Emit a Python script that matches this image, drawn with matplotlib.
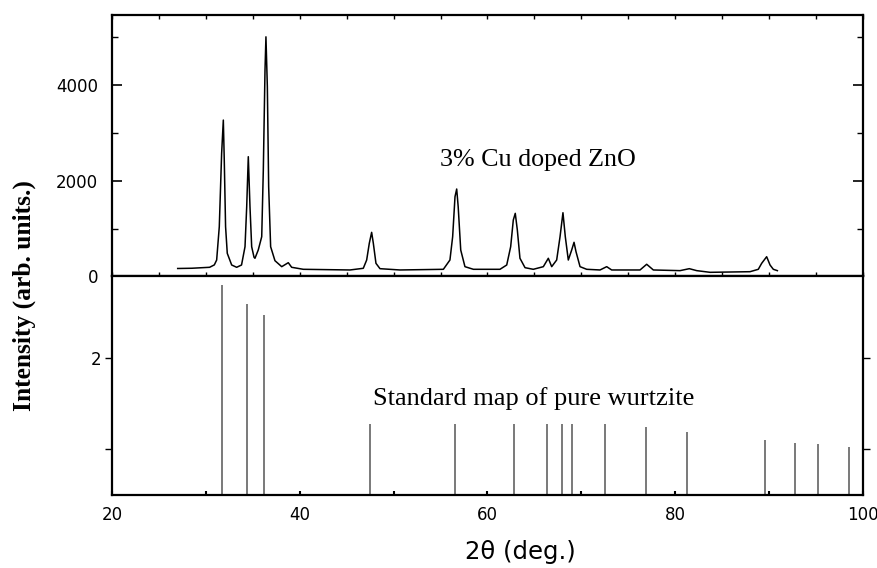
import matplotlib
matplotlib.use("Agg")
import matplotlib.pyplot as plt
from matplotlib.ticker import MultipleLocator

xrd_x = [27.0, 28.5, 30.4, 30.9, 31.15, 31.43, 31.68, 31.86, 31.96, 32.1, 32.28, 32.75, 33.28,
         33.8, 34.17, 34.35, 34.52, 34.7, 34.88, 35.13, 35.23, 35.58, 35.95, 36.12, 36.3,
         36.4, 36.55, 36.69, 36.9, 37.36, 38.08, 38.78, 39.14, 40.38, 45.35, 46.77, 47.13,
         47.41, 47.66, 47.84, 48.12, 48.55, 50.68, 55.3, 56.0, 56.29, 56.54, 56.72, 56.88,
         57.15, 57.6, 58.5, 61.33, 62.05, 62.47, 62.75, 62.96, 63.18, 63.46, 64.0, 64.88,
         65.95, 66.48, 66.84, 67.37, 67.73, 68.04, 68.29, 68.61, 68.97, 69.22, 69.43, 69.86,
         70.57, 71.99, 72.7, 73.23, 76.25, 76.96, 77.67, 80.51, 81.5, 82.29, 83.71, 87.97,
         88.85, 89.21, 89.74, 90.1, 90.45, 90.88]
xrd_y = [165, 170, 190, 240, 342, 1038, 2570, 3265, 2430, 1038, 482, 238, 190,
         238, 620, 1455, 2500, 1455, 620, 400, 378, 551, 829, 2221, 4309,
         5004, 3960, 1873, 620, 328, 203, 286, 190, 148, 134, 169, 342,
         691, 920, 691, 273, 161, 134, 148, 342, 829, 1664, 1825, 1455,
         551, 203, 148, 148, 238, 620, 1177, 1317, 969, 378, 182, 148,
         203, 378, 203, 342, 829, 1330, 829, 342, 551, 712, 516, 203,
         148, 134, 203, 134, 134, 253, 134, 120, 161, 120, 85, 98,
         148, 273, 411, 238, 148, 120]

# standard wurtzite stick pattern
std_pos = [31.7, 34.4, 36.2, 47.5, 56.55, 62.8, 66.3, 67.9, 69.05, 72.5,
           76.9, 81.3, 89.56, 92.72, 95.2, 98.54]
std_h = [2.81, 2.6, 2.48, 1.275, 1.275, 1.275, 1.275, 1.275, 1.275, 1.275,
         1.247, 1.19, 1.105, 1.076, 1.057, 1.03]

fig = plt.figure(figsize=(8.77, 5.68), dpi=100)
ax1 = fig.add_axes([0.1277, 0.5134, 0.8563, 0.4602])
ax2 = fig.add_axes([0.1277, 0.1285, 0.8563, 0.3849])

ax1.plot(xrd_x, xrd_y, color="black", lw=1.1)
ax1.set_xlim(20, 100)
ax1.set_ylim(0, 5460)
ax1.set_yticks([0, 2000, 4000])
ax1.yaxis.set_minor_locator(MultipleLocator(1000))
ax1.xaxis.set_major_locator(MultipleLocator(20))
ax1.xaxis.set_minor_locator(MultipleLocator(5))
ax1.tick_params(axis="x", which="both", direction="in", top=True, bottom=True,
                labelbottom=False, length=3, width=1)
ax1.tick_params(axis="y", which="major", direction="in", left=True, right=True,
                length=7, width=1.2, labelsize=12, pad=10)
ax1.tick_params(axis="y", which="minor", direction="in", left=True, right=True,
                length=4, width=1)
ax1.text(54.9, 2430, "3% Cu doped ZnO", family="Liberation Serif", fontsize=18.7,
         va="center", ha="left")

ax2.vlines(std_pos, 0, std_h, color="#555555", lw=1.1)
ax2.set_xlim(20, 100)
ax2.set_ylim(0.5, 2.9)
ax2.set_yticks([2])
ax2.yaxis.set_minor_locator(MultipleLocator(1))
ax2.xaxis.set_major_locator(MultipleLocator(20))
ax2.xaxis.set_minor_locator(MultipleLocator(10))
ax2.tick_params(axis="x", which="both", direction="in", length=3, width=1.5,
                labelsize=12, pad=8)
ax2.tick_params(axis="y", which="both", direction="out", right=True, length=5,
                width=1, labelsize=12, pad=3)
ax2.text(47.8, 1.56, "Standard map of pure wurtzite", family="Liberation Serif",
         fontsize=19, va="center", ha="left")

for ax in (ax1, ax2):
    for s in ax.spines.values():
        s.set_linewidth(1.6)

fig.text(520 / 877, 1 - 552 / 568, "2θ (deg.)", fontsize=17.5,
         va="center", ha="center")
fig.text(24 / 877, 1 - 296 / 568, "Intensity (arb. units.)", rotation=90,
         family="Liberation Serif", fontweight="bold", fontsize=18.4,
         va="center", ha="center")

fig.savefig("out.png", dpi=100)
